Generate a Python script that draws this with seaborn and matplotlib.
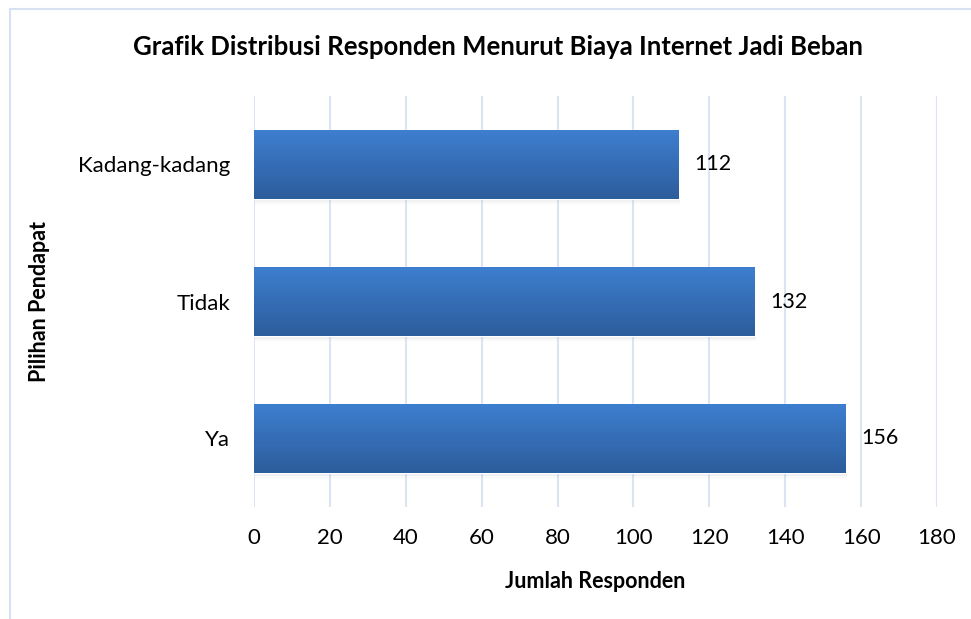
import numpy as np
import pandas as pd
import seaborn as sns
from matplotlib import pyplot as plt
from matplotlib.colors import LinearSegmentedColormap
from matplotlib.lines import Line2D

categories = ['Kadang-kadang', 'Tidak', 'Ya']
values = [112, 132, 156]
x_ticks = [0, 20, 40, 60, 80, 100, 120, 140, 160, 180]

df = pd.DataFrame({'Pilihan': categories, 'Jumlah': values})

sns.set_style('white')
plt.rcParams['font.family'] = ['Lato', 'DejaVu Sans']
plt.rcParams['text.color'] = '#000000'
plt.rcParams['axes.labelcolor'] = '#000000'

fig = plt.figure(figsize=(9.71, 6.19), dpi=100)
ax = fig.add_axes([254 / 971, 1 - 507 / 619, 683 / 971, 411 / 619])

sns.barplot(data=df, x='Jumlah', y='Pilihan', orient='h', width=0.5,
            color='#3a78c6', ax=ax, zorder=3)

# gradient fill + soft shadow like the Excel bars
grad = LinearSegmentedColormap.from_list('bar', ['#3e7ecf', '#2c5d9c'])
for p in ax.patches:
    x0, y0 = p.get_x(), p.get_y()
    w, h = p.get_width(), p.get_height()
    for k, a in enumerate([0.10, 0.07, 0.04]):
        d = 0.012 * (k + 1)
        ax.add_patch(plt.Rectangle((x0 + 0.3, y0 + d), w, h, color='#7f7f7f',
                                   alpha=a, lw=0, zorder=2))
    img = ax.imshow(np.linspace(0, 1, 100).reshape(-1, 1), cmap=grad,
                    aspect='auto', extent=[x0, x0 + w, y0 + h, y0],
                    zorder=4)
    img.set_clip_path(p)

for i, v in enumerate(values):
    ax.text(v + 4, i, str(v), va='center', ha='left', fontsize=15.5,
            color='#000000', zorder=5)

ax.set_xlim(0, 180)
ax.set_ylim(2.5, -0.5)
ax.set_xticks(x_ticks)
ax.xaxis.grid(True, color='#dae4f3', lw=1.5, zorder=0)
ax.yaxis.grid(False)
ax.set_axisbelow(True)
for s in ax.spines.values():
    s.set_visible(False)
ax.tick_params(axis='both', length=0, labelsize=16, colors='#000000')
ax.tick_params(axis='x', pad=15)
ax.tick_params(axis='y', pad=17)

ax.set_xlabel('Jumlah Responden', fontsize=15.5, fontweight='bold')
ax.xaxis.set_label_coords(0.5, -(582 - 507) / 411)
ax.set_ylabel('Pilihan Pendapat', fontsize=15.5, fontweight='bold')
ax.yaxis.set_label_coords(-(254 - 40) / 683, 0.5)
ax.xaxis.label.set_va('center')
ax.yaxis.label.set_va('center')

fig.text(0.513, 1 - 47 / 619, 'Grafik Distribusi Responden Menurut Biaya Internet Jadi Beban',
         ha='center', va='center', fontsize=18.5, fontweight='bold')

# outer chart frame (only top and left edges visible)
fig.add_artist(Line2D([10 / 971, 10 / 971], [0, 1 - 9 / 619],
                      transform=fig.transFigure, color='#d6e2f2', lw=1.5))
fig.add_artist(Line2D([10 / 971, 1], [1 - 9 / 619, 1 - 9 / 619],
                      transform=fig.transFigure, color='#d6e2f2', lw=1.5))

fig.savefig('out.png', dpi=100)
